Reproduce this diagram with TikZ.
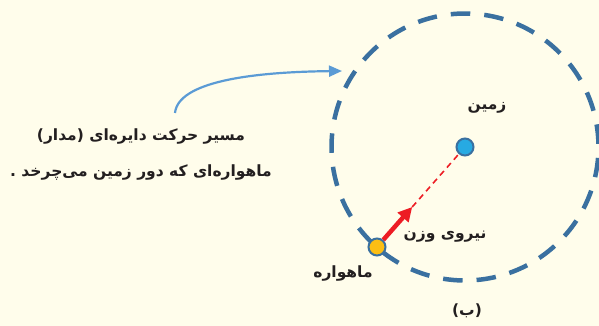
\documentclass[tikz,border=0pt]{standalone}
\usepackage{fontspec}
\newfontfamily\arabicfont[Script=Arabic]{DejaVu Sans}
\TeXXeTstate=1
\usetikzlibrary{arrows.meta,calc}
\definecolor{cream}{RGB}{255,253,235}
\definecolor{orbitblue}{RGB}{58,112,160}
\definecolor{earthblue}{RGB}{39,170,226}
\definecolor{satyellow}{RGB}{252,190,20}
\definecolor{forcered}{RGB}{237,28,36}
\definecolor{pointerblue}{RGB}{91,155,213}
\definecolor{inkgray}{RGB}{35,31,32}

\begin{document}
\begin{tikzpicture}[x=1pt, y=-1pt,
    lbl/.style={text=inkgray, inner sep=0pt, font=\arabicfont\bfseries\fontsize{15.5}{36}\selectfont},
    body/.style={draw=orbitblue, circle, line width=2pt, inner sep=0pt},
    orbit/.style={draw=orbitblue, line width=4.5pt, dash pattern=on 19.5pt off 14.05pt},
    weight/.style={draw=forcered, line width=4.5pt, -{Triangle[length=14pt, width=14pt]}},
    pointer/.style={draw=pointerblue, line width=2.2pt, -{Triangle[length=13pt, width=11pt]}}]
    \fill[cream] (0,0) rectangle (599,326);
    \useasboundingbox (0,0) rectangle (599,326);

    % orbit round the earth, gap left at the satellite
    \draw[orbit] (465,147) ++(134.3:133.5) arc[start angle=134.3, delta angle=360, radius=133.5];

    \node[body, fill=earthblue, minimum size=17pt] (earth) at (465,147) {};
    \node[body, fill=satyellow, minimum size=17pt] (sat) at (377,247) {};
    \coordinate (tip) at ($(sat)!0.4!(earth)$);

    \draw[forcered, line width=1.6pt, dash pattern=on 6pt off 4.5pt] (tip) -- (earth);
    \draw[weight] (sat) -- (tip);

    \node[lbl] (earthname) at (487,108) {\beginR زمین\endR};
    \node[lbl] (weightname) at (445,237) {\beginR نیروی وزن\endR};
    \node[lbl] (satname) at (343,274) {\beginR ماهواره\endR};
    \node[lbl] (part) at (467,311) {\beginR(ب)\endR};
    \node[lbl, align=center] (desc) at (141,155)
        {\beginR مسیر حرکت دایره‌ای (مدار)\endR\\ \beginR ماهواره‌ای که دور زمین می‌چرخد .\endR};

    \coordinate (pathtail) at (175,113);
    \coordinate (pathhead) at (342,71);
    \draw[pointer] (pathtail) .. controls (178,82) and (250,72) .. (pathhead);
\end{tikzpicture}
\end{document}
